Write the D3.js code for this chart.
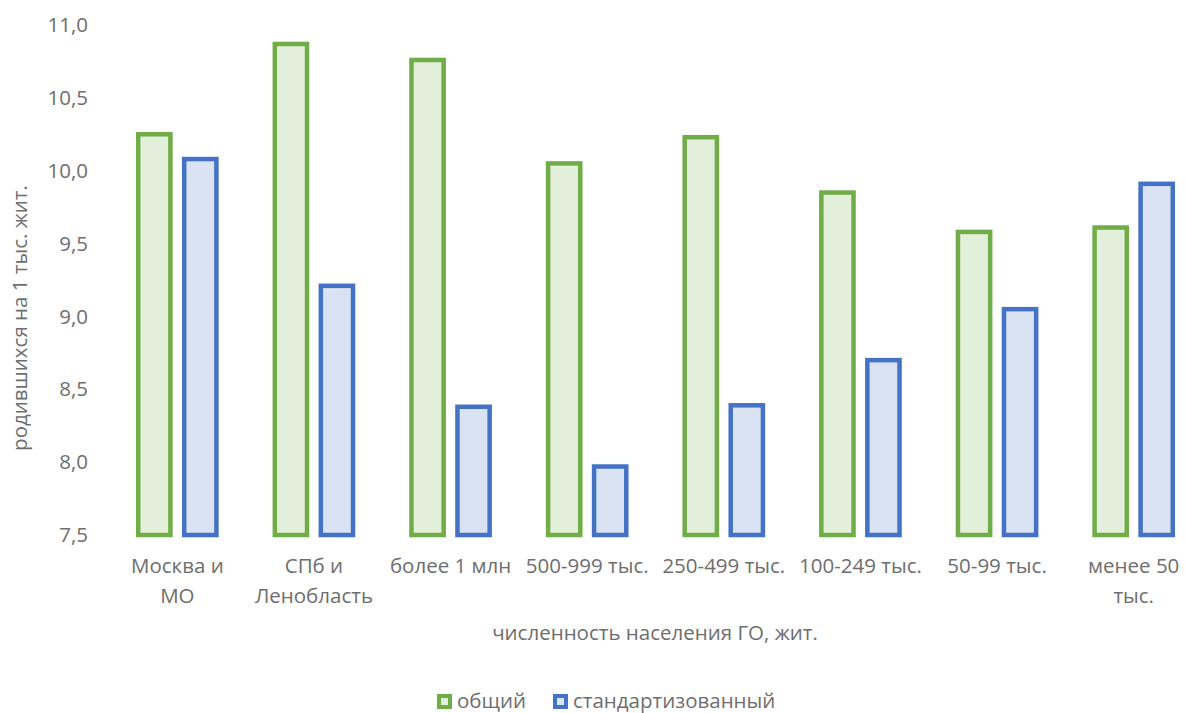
<!DOCTYPE html>
<html>
<head>
<meta charset="utf-8">
<script src="https://cdn.jsdelivr.net/npm/d3@7"></script>
<style>
  body { margin: 0; background: #fff; }
  text { font-family: "Open Sans", "Noto Sans", sans-serif; fill: #6e6e6e; }
</style>
</head>
<body>
<div id="chart"></div>
<script>
// categories (line breaks as in the original labels)
const categories = ["Москва и\nМО", "СПб и\nЛенобласть", "более 1 млн", "500-999 тыс.",
                    "250-499 тыс.", "100-249 тыс.", "50-99 тыс.", "менее 50\nтыс."];
const seriesNames = ["общий", "стандартизованный"];
const total = [10.25, 10.87, 10.76, 10.05, 10.23, 9.85, 9.58, 9.61];
const standardized = [10.08, 9.21, 8.38, 7.97, 8.39, 8.70, 9.05, 9.91];
const yTicks = [7.5, 8.0, 8.5, 9.0, 9.5, 10.0, 10.5, 11.0];

const strokeCol = {"общий": "#70ad47", "стандартизованный": "#4472c4"};
const fillCol = {"общий": "#e2efda", "стандартизованный": "#dae3f3"};

const width = 1185, height = 713;
const svg = d3.select("#chart").append("svg")
    .attr("width", width)
    .attr("height", height)
    .style("font-size", "20.5px");

const rows = categories.map((c, i) => ({cat: c, "общий": total[i], "стандартизованный": standardized[i]}));

let x = d3.scaleBand()
    .domain(categories)
    .range([109, 1202]);

let x1 = d3.scaleBand()
    .domain(seriesNames)
    .range([-46, 46])
    .paddingInner(0.3)
    .paddingOuter(0.15);

let y = d3.scaleLinear()
    .domain([7.5, 11])
    .range([535, 25]);

// y tick labels
svg.append("g").selectAll("text")
    .data(yTicks)
    .enter().append("text")
    .attr("x", 88)
    .attr("y", d => y(d))
    .attr("dy", "0.35em")
    .attr("text-anchor", "end")
    .text(d => d3.format(".1f")(d).replace(".", ","));

// bars
let groups = svg.append("g").selectAll("g")
    .data(rows)
    .enter().append("g")
    .attr("transform", d => "translate(" + (x(d.cat) + x.bandwidth() / 2) + ",0)");

groups.selectAll("rect")
    .data(d => seriesNames.map(k => ({key: k, value: d[k]})))
    .enter().append("rect")
    .attr("x", d => x1(d.key))
    .attr("width", x1.bandwidth())
    .attr("y", d => y(d.value))
    .attr("height", d => y(7.5) - y(d.value))
    .attr("fill", d => fillCol[d.key])
    .attr("stroke", d => strokeCol[d.key])
    .attr("stroke-width", 4.5);

// category labels
let catLabels = svg.append("g").selectAll("text")
    .data(categories)
    .enter().append("text")
    .attr("text-anchor", "middle")
    .attr("transform", d => "translate(" + (x(d) + x.bandwidth() / 2) + ",566)");

catLabels.selectAll("tspan")
    .data(d => d.split("\n"))
    .enter().append("tspan")
    .attr("x", 0)
    .attr("y", (d, i) => i * 30)
    .attr("dy", "0.35em")
    .text(d => d);

// axis titles
svg.append("text")
    .attr("x", 655)
    .attr("y", 633)
    .attr("dy", "0.35em")
    .attr("text-anchor", "middle")
    .text("численность населения ГО, жит.");

svg.append("text")
    .attr("transform", "translate(20,318) rotate(-90)")
    .attr("dy", "0.35em")
    .attr("text-anchor", "middle")
    .text("родившихся на 1 тыс. жит.");

// legend
let legendX = [437, 553];
let legend = svg.append("g").selectAll("g")
    .data(seriesNames)
    .enter().append("g")
    .attr("transform", (d, i) => "translate(" + legendX[i] + ",701)");

legend.append("rect")
    .attr("x", 2)
    .attr("y", -5)
    .attr("width", 11)
    .attr("height", 11)
    .attr("fill", d => fillCol[d])
    .attr("stroke", d => strokeCol[d])
    .attr("stroke-width", 4);

legend.append("text")
    .attr("x", 20)
    .attr("y", 0)
    .attr("dy", "0.35em")
    .text(d => d);
</script>
</body>
</html>
